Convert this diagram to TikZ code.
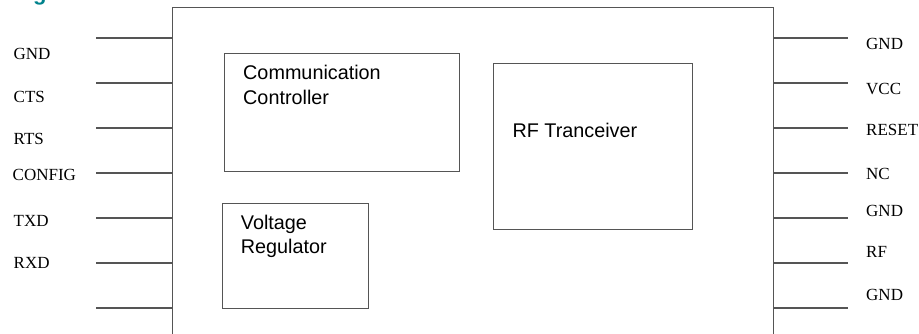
\documentclass[tikz,border=0pt]{standalone}
\usepackage{fontspec}
\setmainfont{Liberation Serif}
\newfontfamily\arialf{Liberation Sans}
\definecolor{lineg}{RGB}{85,85,85}
\definecolor{figteal}{RGB}{0,130,140}
\tikzset{
  pinline/.style={draw=lineg, line width=1.1pt},
  blockbox/.style={draw=lineg, line width=1.1pt, inner sep=0pt},
  pinlabel/.style={font=\fontsize{17}{20}\selectfont, inner sep=0pt, anchor=base west},
  blocktext/.style={font=\arialf\fontsize{19.8}{24.5}\selectfont, inner sep=0pt, anchor=base west, align=left},
}
\begin{document}
\begin{tikzpicture}[x=1pt,y=-1pt]
\clip (0,0) rectangle (919,333);
\useasboundingbox (0,0) rectangle (919,333);
% cut-off caption letter
\node[font=\arialf\bfseries\fontsize{22}{26}\selectfont, text=figteal, inner sep=0pt, anchor=base west] (capg) at (33,0.5) {g};
% main module box (runs off the bottom)
\node[blockbox, minimum width=601pt, minimum height=340pt, anchor=north west] (module) at (171.5,7) {};
% inner blocks
\node[blockbox, minimum width=235pt, minimum height=118pt, anchor=north west] (cc) at (224,52.7) {};
\node[blocktext] (cctext) at (243,104) {Communication\\Controller};
\node[blockbox, minimum width=146.6pt, minimum height=105pt, anchor=north west] (vr) at (221.7,202.7) {};
\node[blocktext] (vrtext) at (240.7,253.5) {Voltage\\Regulator};
\node[blockbox, minimum width=199pt, minimum height=166.3pt, anchor=north west] (rf) at (493.3,62.7) {};
\node[blocktext] (rftext) at (512.3,137.3) {RF Tranceiver};
% left pins
\foreach \i/\y in {1/38,2/83,3/128,4/173,5/218,6/263,7/308}{
  \coordinate (lp\i) at (96,\y);
  \draw[pinline] (lp\i) -- (module.west |- lp\i);
}
\node[pinlabel] (lgnd) at (13.5,59.6) {GND};
\node[pinlabel] (lcts) at (13.5,102.6) {CTS};
\node[pinlabel] (lrts) at (13.5,144) {RTS};
\node[pinlabel] (lconfig) at (12.5,180.6) {CONFIG};
\node[pinlabel] (ltxd) at (13.5,226) {TXD};
\node[pinlabel] (lrxd) at (13.5,268.4) {RXD};
% right pins
\foreach \i/\y in {1/38,2/83,3/128,4/173,5/218,6/263,7/308}{
  \coordinate (rp\i) at (848,\y);
  \draw[pinline] (module.east |- rp\i) -- (rp\i);
}
\node[pinlabel] (rgnd1) at (866,49.4) {GND};
\node[pinlabel] (rvcc) at (866,94.4) {VCC};
\node[pinlabel] (rreset) at (866,135.1) {RESET};
\node[pinlabel] (rnc) at (866,179.6) {NC};
\node[pinlabel] (rgnd2) at (866,216.1) {GND};
\node[pinlabel] (rrf) at (866,257.8) {RF};
\node[pinlabel] (rgnd3) at (866,300.1) {GND};
\end{tikzpicture}
\end{document}
